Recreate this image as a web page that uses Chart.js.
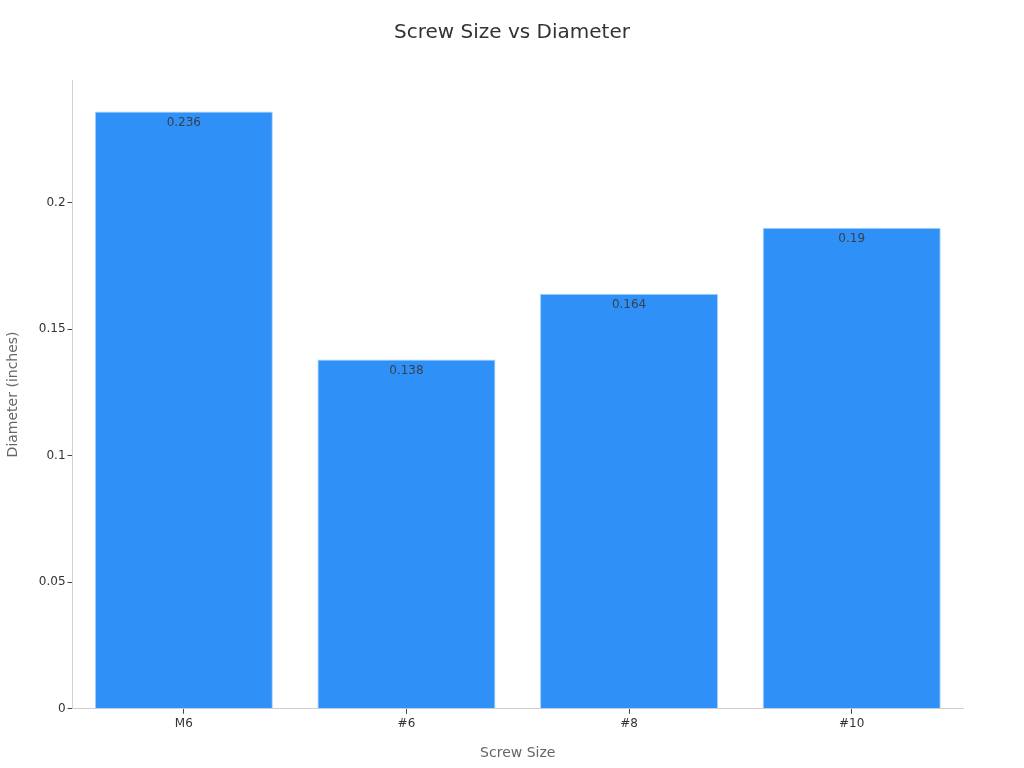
<!DOCTYPE html>
<html>
<head>
<meta charset="utf-8">
<script src="https://cdn.jsdelivr.net/npm/chart.js@4"></script>
<style>
html,body{margin:0;padding:0;background:#fff;}
#wrap{width:1024px;height:768px;position:relative;}
</style>
</head>
<body>
<div id="wrap"><canvas id="c" width="1024" height="768"></canvas></div>
<script>
const categories = ["M6", "#6", "#8", "#10"];
const diameters = [0.236, 0.138, 0.164, 0.19];
const yTicks = [0, 0.05, 0.1, 0.15, 0.2];
const chartTitle = 'Screw Size vs Diameter';

const labelPlugin = {
  id: 'barLabels',
  afterDatasetsDraw(chart) {
    const ctx = chart.ctx;
    const meta = chart.getDatasetMeta(0);
    ctx.save();
    ctx.font = '12px "DejaVu Sans"';
    ctx.fillStyle = '#3a3f4a';
    ctx.textAlign = 'center';
    ctx.textBaseline = 'middle';
    meta.data.forEach((bar, i) => {
      ctx.fillText(String(diameters[i]), bar.x, bar.y + 11);
    });
    ctx.restore();
  },
  afterDraw(chart) {
    const ctx = chart.ctx;
    ctx.save();
    ctx.font = '20px "DejaVu Sans"';
    ctx.fillStyle = '#333333';
    ctx.textAlign = 'center';
    ctx.textBaseline = 'middle';
    ctx.fillText(chartTitle, chart.width / 2, 33);
    ctx.restore();
  }
};

Chart.defaults.font.family = '"DejaVu Sans"';
new Chart(document.getElementById('c'), {
  type: 'bar',
  data: {
    labels: categories,
    datasets: [{
      data: diameters,
      backgroundColor: '#2f91f8',
      borderColor: '#a8d4ff',
      borderWidth: 1,
      barPercentage: 0.8,
      categoryPercentage: 1.0
    }]
  },
  options: {
    responsive: false,
    animation: false,
    devicePixelRatio: 1,
    layout: { padding: { left: 1, right: 61, top: 80, bottom: 2 } },
    plugins: {
      legend: { display: false },
      tooltip: { enabled: false },
      title: { display: false }
    },
    scales: {
      x: {
        grid: { display: true, offset: false, drawOnChartArea: false, drawTicks: true, tickLength: 5, color: '#444' },
        border: { color: '#d0d0d0' },
        ticks: { color: '#333', font: { size: 12 }, padding: 3 },
        title: { display: true, text: 'Screw Size', color: '#666', font: { size: 14 }, padding: { top: 11 } }
      },
      y: {
        min: 0,
        max: 0.2484,
        afterBuildTicks(axis) { axis.ticks = yTicks.map(v => ({ value: v })); },
        grid: { display: true, drawOnChartArea: false, drawTicks: true, tickLength: 5, color: '#444' },
        border: { color: '#d0d0d0' },
        ticks: { color: '#333', font: { size: 12 }, padding: 2, callback: v => String(v) },
        title: { display: true, text: 'Diameter (inches)', color: '#666', font: { size: 14 }, padding: { bottom: 15 } }
      }
    }
  },
  plugins: [labelPlugin]
});
</script>
</body>
</html>
